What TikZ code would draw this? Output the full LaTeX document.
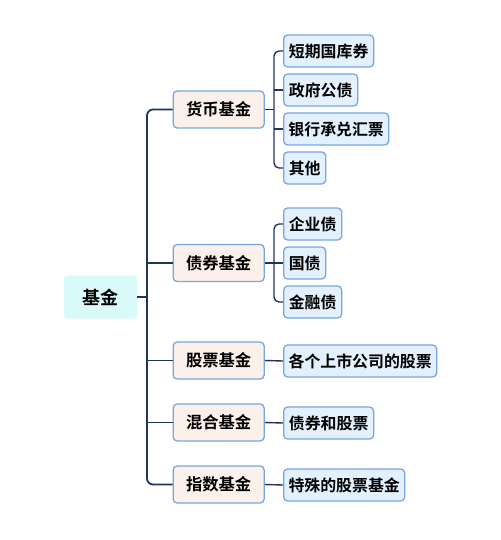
\documentclass[tikz,border=0pt]{standalone}
\usepackage{fontspec}
\setmainfont{Noto Sans CJK SC}[BoldFont={Noto Sans CJK SC Bold}]
\begin{document}
\begin{tikzpicture}[x=1pt,y=-1pt,
  rootbox/.style={fill=rootc, rounded corners=3pt, minimum width=73pt, minimum height=43pt, inner sep=0pt, font=\fontsize{18}{20}\selectfont\bfseries},
  lvone/.style={draw=bordc, line width=1.3pt, fill=peach, rounded corners=4pt, minimum width=91pt, minimum height=37pt, inner sep=0pt, font=\fontsize{16.3}{18}\selectfont\bfseries, anchor=west},
  lvtwo/.style={draw=bordc, line width=1.3pt, fill=lblue, rounded corners=4pt, minimum height=32pt, inner sep=0pt, font=\fontsize{15.9}{18}\selectfont\bfseries, anchor=west},
  conn/.style={draw=navy, line width=1.4pt, rounded corners=5pt},
  trk/.style={draw=navy, line width=1.8pt, rounded corners=6pt}]
\definecolor{rootc}{HTML}{D8FAF8}
\definecolor{peach}{HTML}{FCF0EA}
\definecolor{lblue}{HTML}{E2F1FD}
\definecolor{bordc}{HTML}{76A7E2}
\definecolor{navy}{HTML}{1E3563}
\useasboundingbox (0,0) rectangle (500,540);
\fill[white] (0,0) rectangle (500,540);

\node[rootbox] (root) at (100.5,297) {基金};
\coordinate (tx) at (147,0);
\coordinate (bx) at (274,0);

\node[lvone] (hb) at (172.5,109.5) {货币基金};
\node[lvone] (zq) at (172.5,263) {债券基金};
\node[lvone] (gp) at (172.5,360.5) {股票基金};
\node[lvone] (hh) at (172.5,422.5) {混合基金};
\node[lvone] (zs) at (172.5,484.5) {指数基金};

\node[lvtwo, minimum width=90pt] (a1) at (283,51) {短期国库券};
\node[lvtwo, minimum width=74pt] (a2) at (283,90) {政府公债};
\node[lvtwo, minimum width=105pt] (a3) at (283,129) {银行承兑汇票};
\node[lvtwo, minimum width=42pt] (a4) at (283,168) {其他};

\node[lvtwo, minimum width=58pt] (b1) at (283,224) {企业债};
\node[lvtwo, minimum width=42pt] (b2) at (283,263) {国债};
\node[lvtwo, minimum width=58pt] (b3) at (283,302) {金融债};

\node[lvtwo, minimum width=153pt] (c1) at (283,361) {各个上市公司的股票};
\node[lvtwo, minimum width=90pt] (d1) at (283,423) {债券和股票};
\node[lvtwo, minimum width=121pt] (e1) at (283,485) {特殊的股票基金};

% trunk
\draw[trk] (hb.west) -- (hb.west -| tx) -- (zs.west -| tx) -- (zs.west);
\draw[trk] (zq.west) -- (zq.west -| tx);
\draw[trk] (gp.west) -- (gp.west -| tx);
\draw[trk] (hh.west) -- (hh.west -| tx);
\draw[trk] (root.east) -- (root.east -| tx);

% branch 1
\draw[conn] (a1.west) -- (a1.west -| bx) -- (a4.west -| bx) -- (a4.west);
\draw[conn] (a2.west) -- (a2.west -| bx);
\draw[conn] (a3.west) -- (a3.west -| bx);
\draw[conn] (hb.east) -- (hb.east -| bx);

% branch 2
\draw[conn] (b1.west) -- (b1.west -| bx) -- (b3.west -| bx) -- (b3.west);
\draw[conn] (b2.west) -- (b2.west -| bx);
\draw[conn] (zq.east) -- (zq.east -| bx);

% single children
\draw[conn] (gp.east) -- (c1.west);
\draw[conn] (hh.east) -- (d1.west);
\draw[conn] (zs.east) -- (e1.west);
\end{tikzpicture}
\end{document}
